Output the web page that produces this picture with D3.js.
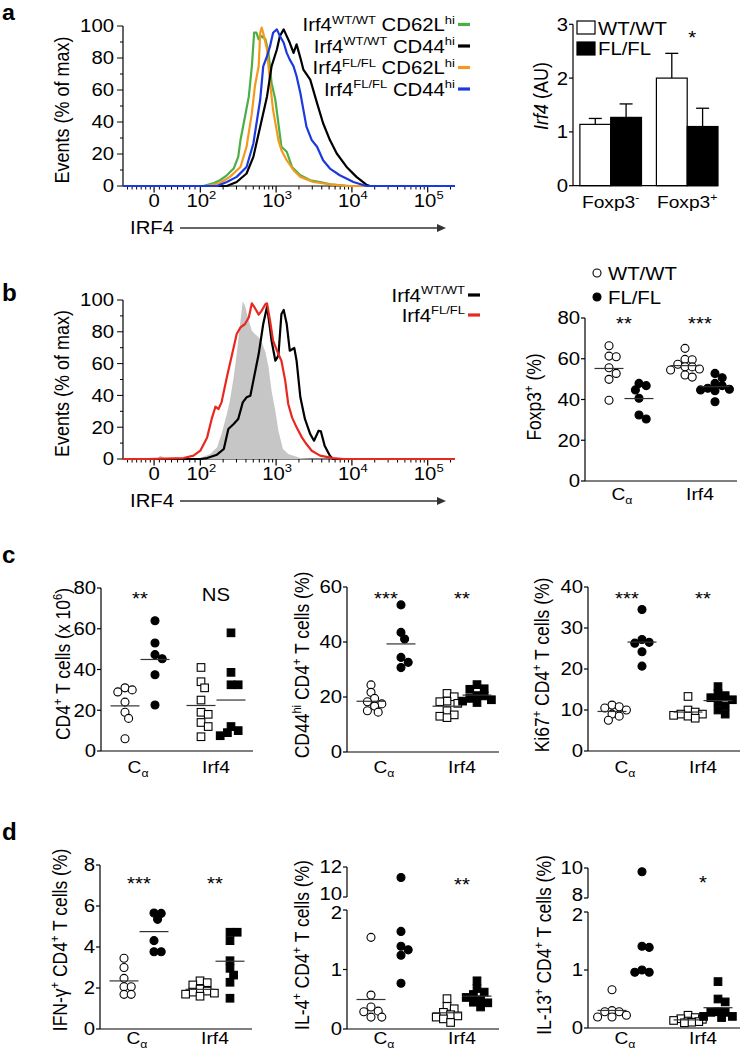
<!DOCTYPE html>
<html><head><meta charset="utf-8">
<script src="https://cdn.jsdelivr.net/npm/d3@7"></script>
<style>
body{margin:0;background:#fff}
text{font-family:Arial,"Liberation Sans",Helvetica,sans-serif;fill:#000}
</style>
</head><body>
<svg id="fig" width="742" height="1050" style="background:#fff"></svg>
<script>
// ===================== DATA =====================
// Flow histograms: x in log10(IRF4) display units ("0" sits at 1.39), y in % of max
const histDomain = [0.98, 5.36];
const histMajorTicks = [1.39, 2, 3, 4, 5];
const histMajorLabels = [["0",""],["10","2"],["10","3"],["10","4"],["10","5"]];
const histLinearMinor = [1.04,1.1,1.16,1.22,1.28,1.34,1.46,1.54,1.62,1.7,1.78,1.86,1.93];

const histA_WT_CD62L = [[2.04,0],[2.18,1.9],[2.26,3.6],[2.35,6.7],[2.44,10.9],[2.50,18.2],[2.53,28.7],[2.59,43.4],[2.64,56.0],[2.68,74.8],[2.71,95.8],[2.74,95.8],[2.77,91.6],[2.81,93.7],[2.86,91.6],[2.90,83.2],[2.94,64.4],[2.99,53.9],[3.03,39.2],[3.07,24.5],[3.14,21.4],[3.21,11.9],[3.32,6.7],[3.45,3.6],[3.58,2.5],[3.75,0.8],[3.97,0]];
const histA_WT_CD44 = [[2.35,0],[2.48,2.5],[2.61,7.8],[2.70,18.2],[2.79,37.1],[2.88,56.0],[2.94,74.8],[3.01,85.3],[3.05,93.7],[3.10,97.9],[3.14,93.7],[3.18,89.5],[3.23,83.2],[3.27,88.5],[3.32,80.1],[3.36,72.7],[3.45,66.5],[3.54,51.8],[3.62,39.2],[3.71,28.7],[3.80,20.3],[3.93,11.9],[4.06,5.7],[4.19,0.8],[4.24,0]];
const histA_FL_CD62L = [[2.09,0],[2.26,1.9],[2.39,5.7],[2.53,11.9],[2.61,24.5],[2.68,45.5],[2.72,62.3],[2.77,74.8],[2.79,95.8],[2.81,99],[2.84,93.7],[2.88,85.3],[2.92,64.4],[2.96,47.6],[3.03,28.7],[3.07,22.4],[3.14,16.1],[3.23,9.9],[3.32,5.7],[3.49,2.5],[3.75,0.8],[3.93,0]];
const histA_FL_CD44 = [[2.22,0],[2.35,2.5],[2.48,5.7],[2.61,11.9],[2.70,26.6],[2.79,53.9],[2.83,74.8],[2.88,81.1],[2.92,87.4],[2.96,95.8],[3.01,97.9],[3.05,93.7],[3.10,89.5],[3.14,83.2],[3.18,79.0],[3.23,74.8],[3.27,68.6],[3.32,58.1],[3.36,47.6],[3.40,37.1],[3.47,28.7],[3.54,24.5],[3.62,16.1],[3.71,10.9],[3.84,6.7],[4.02,2.5],[4.19,0]];

const histB_isotype = [[1.43,0],[1.47,2.1],[1.54,0.6],[1.65,0],[2.00,0.6],[2.13,3.1],[2.22,7.3],[2.28,15.7],[2.35,28.3],[2.39,36.7],[2.44,51.4],[2.48,66.0],[2.53,87.0],[2.56,99.2],[2.59,96.4],[2.64,87.0],[2.68,80.7],[2.72,78.6],[2.77,76.5],[2.81,73.4],[2.86,67.1],[2.90,57.7],[2.94,43.0],[2.99,30.4],[3.03,17.8],[3.09,6.3],[3.16,3.1],[3.23,2.1],[3.32,0.6],[3.45,0]];
const histB_WT = [[2.00,0],[2.09,0.6],[2.22,2.7],[2.31,6.3],[2.37,18.9],[2.44,22.0],[2.50,25.2],[2.56,35.6],[2.61,38.8],[2.66,39.8],[2.70,49.3],[2.77,66.0],[2.83,84.9],[2.88,95.8],[2.90,89.1],[2.94,74.4],[2.99,61.8],[3.03,65.0],[3.07,91.2],[3.10,93.7],[3.14,84.9],[3.18,68.1],[3.24,69.8],[3.27,61.8],[3.32,38.8],[3.38,25.2],[3.45,15.7],[3.50,11.5],[3.56,17.8],[3.59,17.4],[3.64,8.4],[3.71,2.1],[3.75,0]];
const histB_FL = [[1.30,0],[1.78,0.6],[1.91,2.1],[2.00,5.2],[2.09,13.6],[2.15,25.2],[2.20,32.9],[2.24,31.4],[2.28,35.6],[2.35,51.4],[2.42,66.0],[2.48,78.6],[2.53,82.8],[2.59,84.9],[2.64,89.1],[2.68,97.9],[2.72,95.0],[2.77,90.8],[2.81,93.3],[2.86,97.5],[2.88,97.9],[2.92,87.0],[2.96,74.4],[3.03,66.0],[3.07,61.8],[3.12,49.3],[3.16,34.6],[3.21,26.2],[3.27,19.9],[3.34,13.6],[3.40,9.4],[3.47,5.2],[3.58,2.1],[3.75,0.6],[3.89,0]];

// Panel a bars: Irf4 mRNA (AU)
const barGroups = ["Foxp3-", "Foxp3+"];
const irf4WT = [1.14, 2.00];
const irf4WTerr = [0.11, 0.46];
const irf4FL = [1.27, 1.10];
const irf4FLerr = [0.25, 0.34];

// Panel b: Foxp3+ (%)
const foxCaWT = [66.4, 61.3, 61.0, 55.6, 52.8, 49.9, 39.6];
const foxCaFL = [47.9, 46.8, 44.7, 40.6, 32.4, 30.4];
const foxIrfWT = [65.1, 59.7, 59.5, 57.3, 56.1, 56.0, 55.0, 54.5, 52.0, 51.0];
const foxIrfFL = [52.8, 50.7, 47.9, 46.8, 45.5, 45.0, 44.7, 44.3, 38.9];

// Panel c
const cntCaWT = [31, 30, 29, 24, 19, 16, 6];
const cntCaFL = [63.9, 53, 47.3, 45.3, 37.4, 22.6];
const cntIrfWT = [41, 34, 31, 25, 19, 18, 14, 12, 7];
const cntIrfFL = [58, 38.6, 32.5, 32.5, 12, 10, 9, 7.5];

const cd44CaWT = [24.4, 21.7, 19.5, 18.3, 17.5, 16.7, 15, 14.5];
const cd44CaFL = [53.5, 43.5, 41.1, 34.4, 32.6, 30.7];
const cd44IrfWT = [21.3, 20.1, 18.5, 18.3, 17.7, 15, 13.5, 13, 12.5];
const cd44IrfFL = [24.5, 23, 22.8, 20.5, 20.4, 19.5, 19, 18.5, 18];

const ki67CaWT = [11.2, 10.8, 10.5, 10, 9, 8.5, 7.5];
const ki67CaFL = [34.5, 27.2, 26.5, 26.3, 24.2, 20.7];
const ki67IrfWT = [13.3, 10, 9.5, 9, 9, 8.7, 8.5, 8];
const ki67IrfFL = [15.7, 14, 13.5, 13, 12.5, 12, 11, 10, 9];

// Panel d
const ifnCaWT = [3.45, 3.0, 2.47, 2.06, 2.06, 1.69, 1.69];
const ifnCaFL = [5.66, 5.64, 5.35, 4.31, 3.77, 3.77];
const ifnIrfWT = [2.35, 2.26, 2.15, 1.95, 1.85, 1.8, 1.75, 1.7, 1.6];
const ifnIrfFL = [4.72, 4.72, 4.31, 3.33, 2.96, 2.63, 2.28, 1.5];

const il4CaWT = [1.54, 0.57, 0.37, 0.3, 0.29, 0.2, 0.2];
const il4CaFL = [11.3, 1.64, 1.39, 1.33, 1.24, 0.77];
const il4IrfWT = [0.51, 0.38, 0.34, 0.28, 0.24, 0.22, 0.2, 0.17, 0.11];
const il4IrfFL = [0.81, 0.68, 0.62, 0.58, 0.53, 0.49, 0.45, 0.44, 0.37];

const il13CaWT = [0.66, 0.3, 0.28, 0.28, 0.22, 0.19, 0.19];
const il13CaFL = [9.75, 1.41, 1.39, 1.0, 0.96, 0.96];
const il13IrfWT = [0.22, 0.18, 0.16, 0.15, 0.13, 0.12, 0.11, 0.1, 0.09];
const il13IrfFL = [0.8, 0.5, 0.45, 0.28, 0.27, 0.27, 0.2, 0.2, 0.18];

const categories = ["Cα", "Irf4"];
const genotypes = ["WT", "FL"];

// ===================== HELPERS =====================
const svg = d3.select("#fig");
const FS = 18;
const SX = 1.13; // horizontal glyph stretch seen in the reference

function rich(t, segs, fs) {
  let shift = 0;
  segs.forEach(s => {
    let target = 0, size = fs;
    if (s.sup) { target = -fs * 0.42; size = fs * 0.64; }
    if (s.sub) { target = fs * 0.22; size = fs * 0.64; }
    const ts = t.append("tspan").text(s.t).style("font-size", size + "px");
    if (target - shift !== 0) ts.attr("dy", target - shift);
    if (s.it) ts.style("font-style", "italic");
    shift = target;
  });
}
function addText(x, y, segs, o = {}) {
  const fs = o.fs || FS;
  const t = svg.append("text").attr("x", x).attr("y", y)
    .attr("text-anchor", o.anchor || "start").style("font-size", fs + "px");
  const sx = o.sx || SX;
  if (o.rotate) t.attr("transform", `translate(${x},${y}) scale(${sx},1) rotate(-90) translate(${-x},${-y})`);
  else t.attr("transform", `translate(${x},${y}) scale(${sx},1) translate(${-x},${-y})`);
  if (o.weight) t.style("font-weight", o.weight);
  rich(t, typeof segs === "string" ? [{t: segs}] : segs, fs);
  return t;
}
function line(x1, y1, x2, y2, w = 1.2, c = "#000") {
  svg.append("line").attr("x1", x1).attr("y1", y1).attr("x2", x2).attr("y2", y2)
    .attr("stroke", c).attr("stroke-width", w);
}

// ===================== HISTOGRAMS =====================
function histogram(cfg) {
  const x = d3.scaleLinear().domain(histDomain).range([cfg.x0, cfg.x1]);
  const y = d3.scaleLinear().domain([0, 100]).range([cfg.yb, cfg.yt]);
  const full = d => [[histDomain[0], 0], ...d, [histDomain[1], 0]];
  line(cfg.x0, cfg.yt, cfg.x0, cfg.yb, 1.2);
  line(cfg.x0, cfg.yb, cfg.x1, cfg.yb, 1.2);
  d3.range(0, 101, 10).forEach(v => {
    const major = v % 20 === 0;
    line(cfg.x0 - (major ? 6 : 3), y(v), cfg.x0, y(v), 1);
    if (major) addText(cfg.x0 - 9, y(v) + 6.5, String(v), {anchor: "end"});
  });
  const minor = histLinearMinor.slice();
  [2, 3, 4].forEach(n => d3.range(2, 10).forEach(k => minor.push(n + Math.log10(k))));
  [5].forEach(n => d3.range(2, 4).forEach(k => minor.push(n + Math.log10(k))));
  minor.filter(t => t < histDomain[1]).forEach(t => line(x(t), cfg.yb, x(t), cfg.yb + 3.5, 1));
  histMajorTicks.forEach((t, i) => {
    line(x(t), cfg.yb, x(t), cfg.yb + 6.5, 1.2);
    const lab = histMajorLabels[i];
    const segs = [{t: lab[0]}];
    if (lab[1]) segs.push({t: lab[1], sup: true});
    addText(x(t) + (lab[1] ? 1 : 0), cfg.yb + 21, segs, {anchor: "middle"});
  });
  cfg.series.forEach(s => {
    if (s.fill) {
      svg.append("path").datum(full(s.data))
        .attr("d", d3.area().x(d => x(d[0])).y0(y(0)).y1(d => y(d[1])))
        .attr("fill", s.fill).attr("stroke", "none");
    } else {
      svg.append("path").datum(full(s.data))
        .attr("d", d3.line().x(d => x(d[0])).y(d => y(d[1])))
        .attr("fill", "none").attr("stroke", s.color).attr("stroke-width", 2.2)
        .attr("stroke-linejoin", "round");
    }
  });
  addText(69, (cfg.yt + cfg.yb) / 2 + 4, "Events (% of max)", {anchor: "middle", rotate: true});
  addText(130, cfg.arrowY + 6, "IRF4", {});
  line(180, cfg.arrowY, 438, cfg.arrowY, 1.3, "#333");
  svg.append("path").attr("d", `M${437},${cfg.arrowY - 4} L${446},${cfg.arrowY} L${437},${cfg.arrowY + 4} Z`).attr("fill", "#333");
  cfg.legend.forEach((l, i) => {
    const by = cfg.legY + i * cfg.legDy;
    addText(cfg.legX, by, l.segs, {anchor: "end"});
    line(cfg.legX + 3, by - 7, cfg.legX + 15, by - 7, 3.2, l.color);
  });
}

const cGreen = "#4cae47", cOrange = "#f39a1e", cBlue = "#1b39df", cRed = "#e8281e";
histogram({
  x0: 123, x1: 455, yt: 26, yb: 186, arrowY: 228,
  series: [
    {data: histA_WT_CD62L, color: cGreen},
    {data: histA_FL_CD62L, color: cOrange},
    {data: histA_WT_CD44, color: "#000"},
    {data: histA_FL_CD44, color: cBlue}
  ],
  legX: 455, legY: 31.5, legDy: 21.5,
  legend: [
    {segs: [{t: "Irf4"}, {t: "WT/WT", sup: true}, {t: " CD62L"}, {t: "hi", sup: true}], color: cGreen},
    {segs: [{t: "Irf4"}, {t: "WT/WT", sup: true}, {t: " CD44"}, {t: "hi", sup: true}], color: "#000"},
    {segs: [{t: "Irf4"}, {t: "FL/FL", sup: true}, {t: " CD62L"}, {t: "hi", sup: true}], color: cOrange},
    {segs: [{t: "Irf4"}, {t: "FL/FL", sup: true}, {t: " CD44"}, {t: "hi", sup: true}], color: cBlue}
  ]
});
histogram({
  x0: 123, x1: 455, yt: 300, yb: 459, arrowY: 501,
  series: [
    {data: histB_isotype, fill: "#c6c6c6"},
    {data: histB_WT, color: "#000"},
    {data: histB_FL, color: cRed}
  ],
  legX: 465, legY: 302, legDy: 20,
  legend: [
    {segs: [{t: "Irf4"}, {t: "WT/WT", sup: true}], color: "#000"},
    {segs: [{t: "Irf4"}, {t: "FL/FL", sup: true}], color: cRed}
  ]
});

// ===================== BAR CHART (a right) =====================
(function () {
  const x0 = 573, x1 = 718, yb = 185.7, yt = 24.3;
  const y = d3.scaleLinear().domain([0, 3]).range([yb, yt]);
  const xb = d3.scaleBand().domain(barGroups).range([x0, x1]).paddingInner(0.195).paddingOuter(0.045).align(1);
  const xs = d3.scaleBand().domain(genotypes).range([0, xb.bandwidth()]);
  const series = [{g: "WT", v: irf4WT, e: irf4WTerr, fill: "#fff"}, {g: "FL", v: irf4FL, e: irf4FLerr, fill: "#000"}];
  series.forEach(s => {
    barGroups.forEach((grp, i) => {
      const bx = xb(grp) + xs(s.g), bw = xs.bandwidth();
      const cx = bx + bw / 2;
      line(cx, y(s.v[i]), cx, y(s.v[i] + s.e[i]), 1.3);
      line(cx - 6.5, y(s.v[i] + s.e[i]), cx + 6.5, y(s.v[i] + s.e[i]), 1.3);
      svg.append("rect").attr("x", bx).attr("y", y(s.v[i])).attr("width", bw)
        .attr("height", y(0) - y(s.v[i])).attr("fill", s.fill).attr("stroke", "#000").attr("stroke-width", 1.2);
    });
  });
  line(x0, yt, x0, yb, 1.2);
  line(x0, yb, x1, yb, 1.2);
  [0, 1, 2, 3].forEach(v => {
    line(x0 - 4, y(v), x0, y(v), 1.2);
    addText(x0 - 5, y(v) + 6.5, String(v), {anchor: "end"});
  });
  addText(xb("Foxp3-") + xb.bandwidth() / 2, 208, [{t: "Foxp3"}, {t: "-", sup: true}], {anchor: "middle", fs: 17});
  addText(xb("Foxp3+") + xb.bandwidth() / 2, 208, [{t: "Foxp3"}, {t: "+", sup: true}], {anchor: "middle", fs: 17});
  addText(548, 96, [{t: "Irf4", it: true}, {t: " (AU)"}], {anchor: "middle", rotate: true});
  addText(xb("Foxp3+") + xb.bandwidth() / 2 + 5, 44, "*", {anchor: "middle"});
  svg.append("rect").attr("x", 577).attr("y", 21).attr("width", 18).attr("height", 13).attr("fill", "#fff").attr("stroke", "#000").attr("stroke-width", 1.2);
  svg.append("rect").attr("x", 577).attr("y", 42).attr("width", 18).attr("height", 13).attr("fill", "#000").attr("stroke", "#000").attr("stroke-width", 1.2);
  addText(598, 35, "WT/WT", {});
  addText(598, 55, "FL/FL", {});
})();

// ===================== DOT PLOTS =====================
function swarm(vals, yFn, cx, minDist, step, maxOff) {
  const placed = [];
  const pts = vals.map(v => ({v, y: yFn(v)})).filter(p => p.y != null).sort((a, b) => b.v - a.v);
  pts.forEach(p => {
    let best = cx, bestD = -1;
    for (let k = 0; k < 80; k++) {
      const off = k === 0 ? 0 : (k % 2 ? 1 : -1) * Math.ceil(k / 2) * step;
      if (Math.abs(off) > maxOff) break;
      const xx = cx + off;
      const dmin = placed.length ? d3.min(placed, q => Math.hypot(q.x - xx, q.y - p.y)) : Infinity;
      if (dmin >= minDist) { best = xx; break; }
      if (dmin > bestD + 0.5) { bestD = dmin; best = xx; }
    }
    p.x = best;
    placed.push(p);
  });
  return placed;
}

function dotPanel(cfg) {
  const x0 = cfg.x0;
  const cat = d3.scaleBand().domain(categories).range([x0 + 1, x0 + 153]);
  const geno = d3.scaleBand().domain(genotypes).range([0, cat.bandwidth()]).paddingOuter(0.267);
  const cxOf = (c, g) => cat(c) + geno(g) + geno.bandwidth() / 2;
  let yFn, segments;
  const lo = d3.scaleLinear().domain(cfg.domain).range([cfg.yBot, cfg.yTop]);
  if (cfg.upper) {
    const up = d3.scaleLinear().domain(cfg.upper.domain).range([cfg.upper.yBot, cfg.upper.yTop]);
    yFn = v => v <= cfg.domain[1] ? lo(v) : (v >= cfg.upper.domain[0] ? up(v) : null);
    segments = [{s: lo, ticks: cfg.ticks, part: "lo"}, {s: up, ticks: cfg.upper.ticks, part: "up"}];
  } else {
    yFn = v => lo(v);
    segments = [{s: lo, ticks: cfg.ticks, part: ""}];
  }
  segments.forEach(sg => {
    const r = sg.s.range();
    line(x0, r[0], x0, r[1], 1.2);
    sg.ticks.forEach(t => {
      line(x0 - 4, sg.s(t), x0, sg.s(t), 1.2);
      let nudge = 0;
      if (sg.part === "lo" && t === sg.s.domain()[1]) nudge = 3;
      if (sg.part === "up" && t === sg.s.domain()[0]) nudge = -3;
      addText(x0 - 5, sg.s(t) + 6.5 + nudge, String(t), {anchor: "end"});
    });
  });
  line(x0, cfg.yBot, x0 + 152, cfg.yBot, 1.2);
  cfg.groups.forEach(gr => {
    const cx = cxOf(gr.cat, gr.geno);
    const pts = swarm(gr.data, yFn, cx, 6.8, 3.6, 14.5);
    const fill = gr.geno === "WT" ? "#fff" : "#000";
    pts.forEach(p => {
      if (gr.shape === "square") {
        svg.append("rect").attr("x", p.x - 3.8).attr("y", p.y - 3.8).attr("width", 7.6).attr("height", 7.6)
          .attr("fill", fill).attr("stroke", "#000").attr("stroke-width", 1.1);
      } else {
        svg.append("circle").attr("cx", p.x).attr("cy", p.y).attr("r", 4)
          .attr("fill", fill).attr("stroke", "#000").attr("stroke-width", 1.1);
      }
    });
    const m = d3.mean(gr.data);
    const my = yFn(m);
    if (my != null) line(cx - 14.5, my, cx + 14.5, my, 1.2, "#333");
  });
  categories.forEach((c, i) => {
    if (cfg.stars[i]) addText(cat(c) + cat.bandwidth() / 2, cfg.starY - (cfg.stars[i] === "NS" ? 4 : 0), cfg.stars[i], {anchor: "middle"});
    addText(cat(c) + cat.bandwidth() / 2 + (c === "Cα" ? -2 : 0), cfg.catY, c === "Cα" ? [{t: "C"}, {t: "α", sub: true}] : "Irf4", {anchor: "middle", fs: 17});
  });
  addText(cfg.labelX, cfg.labelY, cfg.label, {anchor: "middle", rotate: true, fs: 17.5});
}

const CA = "Cα", IR = "Irf4";
function groups4(a, b, c, d, irfShape) {
  return [
    {cat: CA, geno: "WT", data: a, shape: "circle"},
    {cat: CA, geno: "FL", data: b, shape: "circle"},
    {cat: IR, geno: "WT", data: c, shape: irfShape},
    {cat: IR, geno: "FL", data: d, shape: irfShape}
  ];
}

dotPanel({x0: 585, yTop: 318, yBot: 481, domain: [0, 80], ticks: [0, 20, 40, 60, 80],
  groups: groups4(foxCaWT, foxCaFL, foxIrfWT, foxIrfFL, "circle"),
  stars: ["**", "***"], starY: 330, catY: 500,
  label: [{t: "Foxp3"}, {t: "+", sup: true}, {t: " (%)"}], labelX: 541, labelY: 397});
svg.append("circle").attr("cx", 597).attr("cy", 273).attr("r", 4).attr("fill", "#fff").attr("stroke", "#000").attr("stroke-width", 1.1);
svg.append("circle").attr("cx", 597).attr("cy", 297).attr("r", 4).attr("fill", "#000").attr("stroke", "#000").attr("stroke-width", 1.1);
addText(608, 280, "WT/WT", {});
addText(608, 304, "FL/FL", {});

dotPanel({x0: 101, yTop: 588, yBot: 751, domain: [0, 80], ticks: [0, 20, 40, 60, 80],
  groups: groups4(cntCaWT, cntCaFL, cntIrfWT, cntIrfFL, "square"),
  stars: ["**", "NS"], starY: 605, catY: 773,
  label: [{t: "CD4"}, {t: "+", sup: true}, {t: " T cells (x 10"}, {t: "6", sup: true}, {t: ")"}], labelX: 70, labelY: 664});
dotPanel({x0: 347, yTop: 587, yBot: 752, domain: [0, 60], ticks: [0, 20, 40, 60],
  groups: groups4(cd44CaWT, cd44CaFL, cd44IrfWT, cd44IrfFL, "square"),
  stars: ["***", "**"], starY: 605, catY: 773,
  label: [{t: "CD44"}, {t: "hi", sup: true}, {t: " CD4"}, {t: "+", sup: true}, {t: " T cells (%)"}], labelX: 309, labelY: 665});
dotPanel({x0: 588, yTop: 587, yBot: 751, domain: [0, 40], ticks: [0, 10, 20, 30, 40],
  groups: groups4(ki67CaWT, ki67CaFL, ki67IrfWT, ki67IrfFL, "square"),
  stars: ["***", "**"], starY: 605, catY: 773,
  label: [{t: "Ki67"}, {t: "+", sup: true}, {t: " CD4"}, {t: "+", sup: true}, {t: " T cells (%)"}], labelX: 549, labelY: 665});

dotPanel({x0: 100, yTop: 865, yBot: 1029, domain: [0, 8], ticks: [0, 2, 4, 6, 8],
  groups: groups4(ifnCaWT, ifnCaFL, ifnIrfWT, ifnIrfFL, "square"),
  stars: ["***", "**"], starY: 890, catY: 1044,
  label: [{t: "IFN-γ"}, {t: "+", sup: true}, {t: " CD4"}, {t: "+", sup: true}, {t: " T cells (%)"}], labelX: 67, labelY: 940});
dotPanel({x0: 347, yTop: 910, yBot: 1029, domain: [0, 2], ticks: [0, 1, 2],
  upper: {domain: [10, 12], yBot: 897, yTop: 867, ticks: [10, 12]},
  groups: groups4(il4CaWT, il4CaFL, il4IrfWT, il4IrfFL, "square"),
  stars: ["", "**"], starY: 891, catY: 1044,
  label: [{t: "IL-4"}, {t: "+", sup: true}, {t: " CD4"}, {t: "+", sup: true}, {t: " T cells (%)"}], labelX: 309, labelY: 945});
dotPanel({x0: 588, yTop: 912, yBot: 1028, domain: [0, 2], ticks: [0, 1, 2],
  upper: {domain: [8, 10], yBot: 898, yTop: 868, ticks: [8, 10]},
  groups: groups4(il13CaWT, il13CaFL, il13IrfWT, il13IrfFL, "square"),
  stars: ["", "*"], starY: 889, catY: 1044,
  label: [{t: "IL-13"}, {t: "+", sup: true}, {t: " CD4"}, {t: "+", sup: true}, {t: " T cells (%)"}], labelX: 551, labelY: 945});

[["a", 20, 22], ["b", 301, 23], ["c", 563, 23], ["d", 840, 23]].forEach(([l, yy, fs]) =>
  addText(2, yy, l, {fs: fs, weight: "bold", sx: 1.05}));
</script>
</body></html>
